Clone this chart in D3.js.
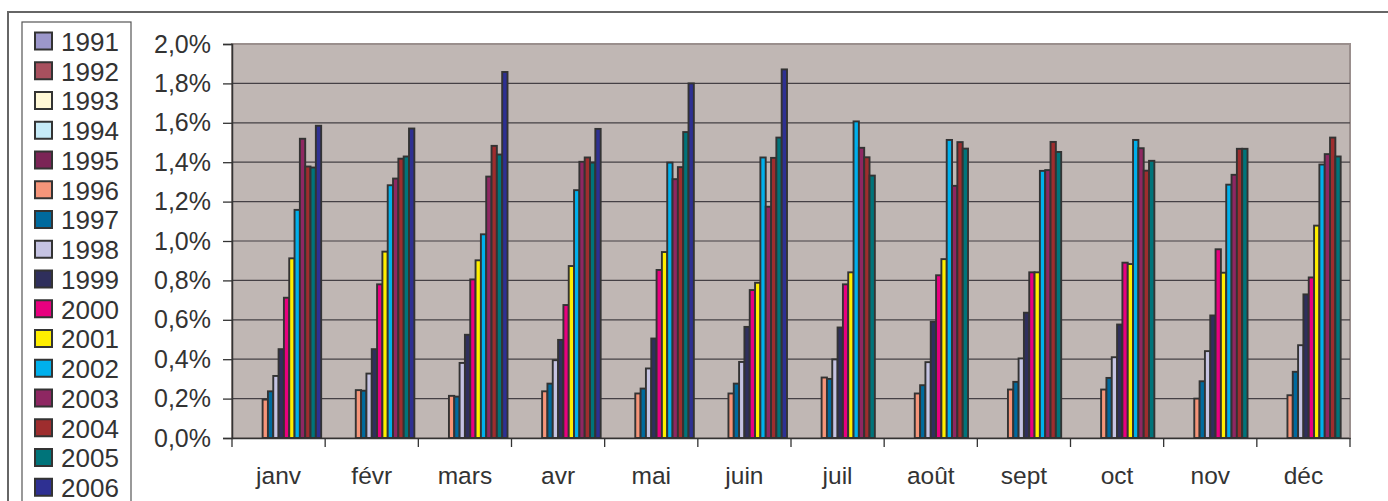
<!DOCTYPE html>
<html>
<head>
<meta charset="utf-8">
<script src="https://cdn.jsdelivr.net/npm/d3@7"></script>
<style>
  body { margin: 0; background: #fff; }
  text { font-family: "Liberation Sans", Arial, sans-serif; fill: #333; }
</style>
</head>
<body>
<script>
// months on the x axis
var months = ["janv", "févr", "mars", "avr", "mai", "juin", "juil", "août", "sept", "oct", "nov", "déc"]
var years = ["1991", "1992", "1993", "1994", "1995", "1996", "1997", "1998", "1999", "2000", "2001", "2002", "2003", "2004", "2005", "2006"]
var colors = ["#9c97cb", "#a8505e", "#fff8d6", "#c6ebf8", "#7b2456", "#f5957a", "#006a9e", "#c5c3e2", "#2f2f5c", "#e8007f", "#ffee00", "#00b0ec", "#8e2762", "#9e2d2e", "#00747a", "#2e3092"]
var yTicks = [0, 0.2, 0.4, 0.6, 0.8, 1.0, 1.2, 1.4, 1.6, 1.8, 2.0]

// values in %, one array per year (empty years are zero)
var v1991 = [0, 0, 0, 0, 0, 0, 0, 0, 0, 0, 0, 0]
var v1992 = [0, 0, 0, 0, 0, 0, 0, 0, 0, 0, 0, 0]
var v1993 = [0, 0, 0, 0, 0, 0, 0, 0, 0, 0, 0, 0]
var v1994 = [0, 0, 0, 0, 0, 0, 0, 0, 0, 0, 0, 0]
var v1995 = [0, 0, 0, 0, 0, 0, 0, 0, 0, 0, 0, 0]
var v1996 = [0.195, 0.243, 0.214, 0.237, 0.226, 0.226, 0.307, 0.226, 0.246, 0.246, 0.200, 0.217]
var v1997 = [0.237, 0.240, 0.210, 0.276, 0.251, 0.276, 0.300, 0.268, 0.285, 0.305, 0.288, 0.336]
var v1998 = [0.315, 0.327, 0.381, 0.395, 0.353, 0.386, 0.399, 0.385, 0.404, 0.410, 0.441, 0.471]
var v1999 = [0.451, 0.451, 0.524, 0.498, 0.505, 0.564, 0.561, 0.590, 0.636, 0.576, 0.622, 0.729]
var v2000 = [0.712, 0.780, 0.805, 0.675, 0.853, 0.751, 0.780, 0.826, 0.841, 0.890, 0.958, 0.815]
var v2001 = [0.912, 0.946, 0.902, 0.873, 0.944, 0.788, 0.841, 0.908, 0.841, 0.883, 0.839, 1.078]
var v2002 = [1.158, 1.283, 1.034, 1.258, 1.398, 1.424, 1.607, 1.513, 1.356, 1.513, 1.286, 1.388]
var v2003 = [1.519, 1.317, 1.327, 1.402, 1.314, 1.174, 1.473, 1.280, 1.360, 1.471, 1.336, 1.441]
var v2004 = [1.378, 1.418, 1.483, 1.424, 1.375, 1.422, 1.425, 1.502, 1.503, 1.357, 1.468, 1.525]
var v2005 = [1.373, 1.429, 1.439, 1.398, 1.553, 1.525, 1.332, 1.469, 1.452, 1.407, 1.468, 1.429]
var v2006 = [1.585, 1.571, 1.858, 1.569, 1.800, 1.871, 0, 0, 0, 0, 0, 0]
var series = [v1991, v1992, v1993, v1994, v1995, v1996, v1997, v1998, v1999, v2000, v2001, v2002, v2003, v2004, v2005, v2006]

var svgWidth = 1388
var svgHeight = 501
var plot = { left: 232, top: 44, right: 1350, bottom: 438 }

var fr = d3.formatLocale({ decimal: ",", thousands: " ", grouping: [3], currency: ["", " €"] })
var fmt = fr.format(".1f")

var svg = d3.select("body").append("svg")
    .attr("width", svgWidth)
    .attr("height", svgHeight)

// outer chart frame (runs off the picture at right and bottom)
svg.append("rect")
    .attr("x", 8).attr("y", 12)
    .attr("width", 1400).attr("height", 520)
    .attr("fill", "none")
    .attr("stroke", "#666")
    .attr("stroke-width", 2)

var X0 = d3.scaleBand().domain(months).range([plot.left, plot.right])
var X1 = d3.scaleBand().domain(years).range([0, X0.bandwidth()]).paddingInner(0).paddingOuter(0.75)
var Y = d3.scaleLinear().domain([0, 2]).range([plot.bottom, plot.top])

// plot background
svg.append("rect")
    .attr("x", plot.left).attr("y", plot.top)
    .attr("width", plot.right - plot.left).attr("height", plot.bottom - plot.top)
    .attr("fill", "#c0b7b4")
    .attr("stroke", "#9a8f8d")
    .attr("stroke-width", 2)

// gridlines
svg.append("g").selectAll("line")
    .data(yTicks.filter(function (d) { return d > 0 && d < 2 }))
    .join("line")
    .attr("x1", plot.left).attr("x2", plot.right)
    .attr("y1", function (d) { return Y(d) }).attr("y2", function (d) { return Y(d) })
    .attr("stroke", "#454045")
    .attr("stroke-width", 1.2)

// bars
var groups = svg.append("g").selectAll("g")
    .data(months)
    .join("g")
    .attr("transform", function (d) { return `translate(${X0(d)},0)` })

groups.selectAll("rect")
    .data(function (m, i) {
        return years.map(function (yr, k) { return { year: yr, k: k, value: series[k][i] } })
            .filter(function (d) { return d.value > 0 })
    })
    .join("rect")
    .attr("x", function (d) { return X1(d.year) })
    .attr("y", function (d) { return Y(d.value) })
    .attr("width", X1.bandwidth())
    .attr("height", function (d) { return Y(0) - Y(d.value) })
    .attr("fill", function (d) { return colors[d.k] })
    .attr("stroke", "#333")
    .attr("stroke-width", 1.9)

// y axis
var yAxis = svg.append("g")
    .attr("transform", `translate(${plot.left},0)`)
    .call(d3.axisLeft(Y).tickValues(yTicks).tickSize(9).tickPadding(12)
        .tickFormat(function (d) { return fmt(d) + "%" }))
yAxis.select(".domain").attr("stroke", "#333").attr("stroke-width", 1.5)
yAxis.selectAll(".tick line").attr("stroke", "#333").attr("stroke-width", 1.3)
yAxis.selectAll("text").style("font-size", "25px").style("font-family", "Liberation Sans, Arial, sans-serif").attr("fill", "#333")

// x axis: labels centred, ticks on the category boundaries
var xAxis = svg.append("g")
    .attr("transform", `translate(0,${plot.bottom})`)
    .call(d3.axisBottom(X0).tickSize(0).tickPadding(29))
xAxis.select(".domain").attr("stroke", "#333").attr("stroke-width", 1.5)
xAxis.selectAll("text").style("font-size", "24.5px").style("font-family", "Liberation Sans, Arial, sans-serif").attr("fill", "#333")

var bounds = months.map(function (m) { return X0(m) }).concat([plot.right])
xAxis.append("g").selectAll("line")
    .data(bounds)
    .join("line")
    .attr("x1", function (d) { return d }).attr("x2", function (d) { return d })
    .attr("y1", 0).attr("y2", 9)
    .attr("stroke", "#333")
    .attr("stroke-width", 1.3)

// legend
var legend = svg.append("g")
legend.append("rect")
    .attr("x", 22).attr("y", 22)
    .attr("width", 109).attr("height", 520)
    .attr("fill", "#fff")
    .attr("stroke", "#555")
    .attr("stroke-width", 1.2)

var item = legend.selectAll("g.item")
    .data(years)
    .join("g")
    .attr("class", "item")
    .attr("transform", function (d, i) { return `translate(0,${41.5 + i * 29.75})` })

item.append("rect")
    .attr("x", 35).attr("y", -9)
    .attr("width", 17).attr("height", 17)
    .attr("fill", function (d, i) { return colors[i] })
    .attr("stroke", "#333")
    .attr("stroke-width", 2)

item.append("text")
    .attr("x", 61).attr("dy", "0.36em")
    .style("font-size", "26px")
    .text(function (d) { return d })
</script>
</body>
</html>
